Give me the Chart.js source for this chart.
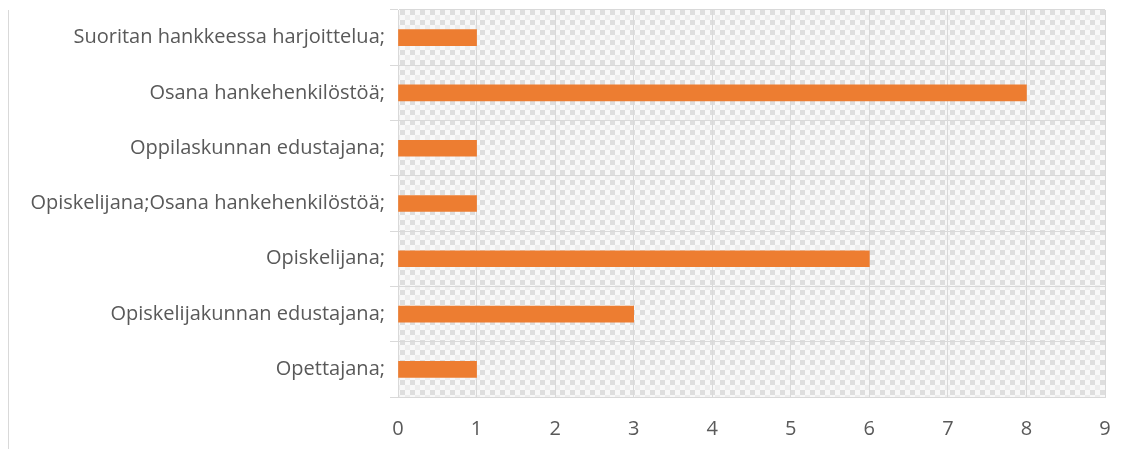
<!DOCTYPE html>
<html>
<head>
<meta charset="utf-8">
<script src="https://cdn.jsdelivr.net/npm/chart.js@4"></script>
<style>
  html, body { margin: 0; padding: 0; background: #fff; }
  #wrap { position: relative; width: 1123px; height: 449px; }
  #frame { position: absolute; left: 8px; top: 10px; bottom: 0; border-left: 1px solid #d9d9d9; }
  canvas { display: block; }
</style>
</head>
<body>
<div id="wrap">
  <div id="frame"></div>
  <canvas id="chart" width="1123" height="449"></canvas>
</div>
<script>
const categories = [
    'Suoritan hankkeessa harjoittelua;',
    'Osana hankehenkilöstöä;',
    'Oppilaskunnan edustajana;',
    'Opiskelijana;Osana hankehenkilöstöä;',
    'Opiskelijana;',
    'Opiskelijakunnan edustajana;',
    'Opettajana;'
];
const counts = [1, 8, 1, 1, 6, 3, 1];
const axisMin = 0;
const axisMax = 9;

// checkered fill like the original plot area
function makePattern() {
    const c = document.createElement('canvas');
    c.width = 10;
    c.height = 10;
    const g = c.getContext('2d');
    g.fillStyle = '#f8f8f8';
    g.fillRect(0, 0, 10, 10);
    g.fillStyle = '#dedede';
    g.fillRect(0, 0, 5, 5);
    g.fillStyle = '#ededed';
    g.fillRect(5, 5, 5, 5);
    return g.createPattern(c, 'repeat');
}

const plotBackground = {
    id: 'plotBackground',
    beforeDraw(chart) {
        const a = chart.chartArea;
        const ctx = chart.ctx;
        ctx.save();
        ctx.fillStyle = makePattern();
        ctx.fillRect(a.left, a.top, a.right - a.left, a.bottom - a.top);
        ctx.restore();
    }
};

Chart.defaults.font.family = '"Open Sans", sans-serif';
Chart.defaults.color = '#595959';

new Chart(document.getElementById('chart').getContext('2d'), {
    type: 'bar',
    data: {
        labels: categories,
        datasets: [{
            data: counts,
            backgroundColor: '#ed7d31',
            barThickness: 16
        }]
    },
    options: {
        indexAxis: 'y',
        responsive: false,
        animation: false,
        layout: { padding: { top: 10, right: 18, left: 0, bottom: 0 } },
        plugins: {
            legend: { display: false },
            tooltip: { enabled: false }
        },
        scales: {
            x: {
                min: axisMin,
                max: axisMax,
                ticks: { stepSize: 1, font: { size: 20 }, padding: 20 },
                grid: { color: '#d9d9d9', drawTicks: false },
                border: { color: '#d9d9d9' },
                afterFit(scale) {
                    scale.height = 52;
                    scale.paddingLeft = 0;
                    scale.paddingRight = 0;
                }
            },
            y: {
                ticks: { font: { size: 20 }, padding: 5 },
                grid: { color: '#d9d9d9', tickLength: 8, offset: true },
                border: { color: '#d9d9d9' },
                afterFit(scale) {
                    scale.width = 398;
                    scale.paddingTop = 0;
                    scale.paddingBottom = 0;
                }
            }
        }
    },
    plugins: [plotBackground]
});
</script>
</body>
</html>
